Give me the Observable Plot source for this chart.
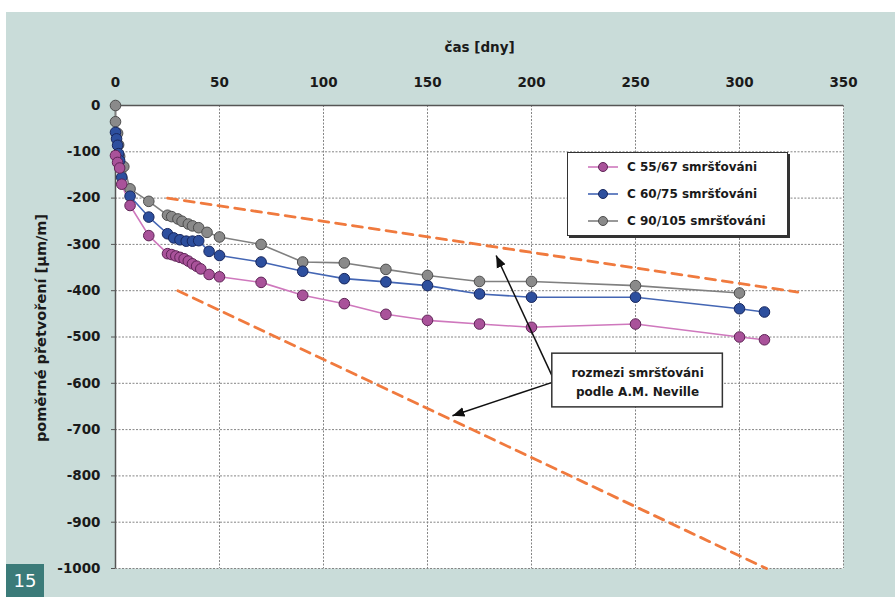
<!DOCTYPE html>
<html><head><meta charset="utf-8">
<script src="https://cdn.jsdelivr.net/npm/d3@7"></script>
<script src="https://cdn.jsdelivr.net/npm/@observablehq/plot@0.6"></script>
<style>
body{margin:0;background:#fff;}
#wrap{position:relative;width:895px;height:597px;overflow:hidden;background:#fff;}
#panel{position:absolute;left:6px;top:12px;width:889px;height:585px;background:#c9dcd9;}
#chart{position:absolute;left:6px;top:12px;}
#legend{position:absolute;left:567px;top:152px;width:219px;height:82px;background:#fff;border:1px solid #333;box-shadow:2px 2px 0 #333;font:bold 12px "DejaVu Sans",sans-serif;color:#1a1a1a;}
#legend .row{height:27px;display:flex;align-items:center;padding-left:20px;}
#legend svg{margin-right:9px;}
#badge{position:absolute;left:6px;top:564px;width:38px;height:33px;background:#3b7b79;color:#fff;font:18px "DejaVu Sans",sans-serif;display:flex;align-items:center;justify-content:center;}
</style>
</head><body>
<div id="wrap"><div id="panel"></div><div id="chart"></div><div id="legend"></div><div id="badge">15</div></div>
<script>
// ---- data ----
const seriesNames = ["C 55/67 smršťováni", "C 60/75 smršťováni", "C 90/105 smršťováni"];
const lineColors = ["#cf78bd", "#4466b4", "#808080"];
const dotColors = ["#a9529a", "#2d4f9e", "#8a8a8a"];
const dotEdges = ["#5e2456", "#18275e", "#4d4d4d"];

const days55 = [0, 1, 2, 3, 7, 16, 25, 27, 29, 31, 33, 35, 37, 39, 41, 45, 50, 70, 90, 110, 130, 150, 175, 200, 250, 300, 312];
const strain55 = [-108, -123, -135, -170, -216, -281, -320, -322, -325, -328, -331, -336, -342, -347, -353, -365, -370, -382, -410, -428, -451, -464, -472, -479, -472, -500, -506];

const days60 = [0, 0.5, 1, 1.5, 2, 3, 7, 16, 25, 28, 31, 34, 37, 40, 45, 50, 70, 90, 110, 130, 150, 175, 200, 250, 300, 312];
const strain60 = [-58, -72, -86, -104, -119, -155, -196, -241, -277, -286, -290, -293, -293, -292, -315, -324, -338, -358, -374, -381, -389, -407, -414, -414, -439, -446];

const days90 = [0, 0, 1, 1.5, 2, 4, 7, 16, 25, 27, 30, 32, 35, 37, 40, 44, 50, 70, 90, 110, 130, 150, 175, 200, 250, 300];
const strain90 = [0, -35, -60, -85, -110, -132, -180, -207, -237, -240, -245, -250, -256, -260, -264, -274, -284, -300, -338, -340, -354, -367, -380, -380, -389, -405];

const nevilleUpperDays = [25, 328];
const nevilleUpperStrain = [-200, -403];
const nevilleLowerDays = [30, 313];
const nevilleLowerStrain = [-400, -1000];

const xTicks = [0, 50, 100, 150, 200, 250, 300, 350];
const yTicks = [0, -100, -200, -300, -400, -500, -600, -700, -800, -900, -1000];

const xTitle = "čas [dny]";
const yTitle = "poměrné přetvoření [μm/m]";
const noteText = "rozmezi smršťováni\npodle A.M. Neville";
const noteBox = [{x1: 210, x2: 292, y1: -536, y2: -652}];
const noteCenter = [{day: 251, strain: -594}];
const arrows = [
  {x1: 210, y1: -585, x2: 183, y2: -324},
  {x1: 210, y1: -598, x2: 162, y2: -670}
];

// ---- build ----
const seriesDays = [days55, days60, days90];
const seriesStrain = [strain55, strain60, strain90];
const seriesRows = seriesDays.map((ds, i) => ds.map((d, j) => ({day: d, strain: seriesStrain[i][j]})));
const upper = nevilleUpperDays.map((d, i) => ({day: d, strain: nevilleUpperStrain[i]}));
const lower = nevilleLowerDays.map((d, i) => ({day: d, strain: nevilleLowerStrain[i]}));

const font = '"DejaVu Sans", sans-serif';
const marks = [
  Plot.frame({fill: "white"}),
  Plot.gridX({ticks: xTicks.slice(1), stroke: "#858585", strokeOpacity: 1, strokeDasharray: "2,1.5"}),
  Plot.gridY({ticks: yTicks.slice(1), stroke: "#858585", strokeOpacity: 1, strokeDasharray: "2,1.5"}),
  Plot.ruleY([0], {stroke: "#555", strokeWidth: 1.5}),
  Plot.ruleX([0], {stroke: "#555", strokeWidth: 1.5}),
  Plot.axisX({anchor: "top", ticks: xTicks, tickSize: 0, tickPadding: 19, label: null, fill: "#1a1a1a", tickFormat: d => String(d), fontSize: 13.5}),
  Plot.axisY({anchor: "left", ticks: yTicks, tickSize: 4, tickPadding: 11, label: null, fill: "#1a1a1a", stroke: "#555", tickFormat: d => String(d), fontSize: 13.5}),
  Plot.text([xTitle], {frameAnchor: "top", dy: -63, fontSize: 13.5, fontWeight: "bold", fill: "#1a1a1a"}),
  Plot.text([yTitle], {frameAnchor: "left", textAnchor: "middle", dx: -74, dy: -9, rotate: -90, fontSize: 14.5, fontWeight: "bold", fill: "#1a1a1a"}),
  Plot.line(upper, {x: "day", y: "strain", stroke: "#f07a3e", strokeWidth: 2.8, strokeDasharray: "10,7"}),
  Plot.line(lower, {x: "day", y: "strain", stroke: "#f07a3e", strokeWidth: 2.8, strokeDasharray: "10,7"})
];
[2, 1, 0].forEach(i => {
  marks.push(Plot.line(seriesRows[i], {x: "day", y: "strain", stroke: lineColors[i], strokeWidth: 1.6}));
});
[2, 1, 0].forEach(i => {
  marks.push(Plot.dot(seriesRows[i], {x: "day", y: "strain", r: 5.3, fill: dotColors[i], stroke: dotEdges[i], strokeWidth: 1}));
});
marks.push(
  Plot.link(arrows, {x1: "x1", y1: "y1", x2: "x2", y2: "y2", stroke: "#111", strokeWidth: 1.5, markerEnd: "arrow"}),
  Plot.rect(noteBox, {x1: "x1", x2: "x2", y1: "y1", y2: "y2", fill: "white", stroke: "#333", strokeWidth: 1.5}),
  Plot.text([noteText], {x: noteCenter[0].day, y: noteCenter[0].strain, fontSize: 12, fontWeight: "bold", lineHeight: 1.6, fill: "#1a1a1a"})
);

const chart = Plot.plot({
  width: 889, height: 585,
  marginLeft: 109, marginRight: 52, marginTop: 93, marginBottom: 29,
  x: {domain: [0, 350]},
  y: {domain: [-1000, 0]},
  style: {fontFamily: font, fontSize: "13.5px", fontWeight: "bold", background: "transparent", overflow: "visible"},
  marks
});

d3.select(chart).selectAll("marker").each(function() {
  const m = d3.select(this);
  m.attr("viewBox", "-10 -5 10 10").attr("markerWidth", 8).attr("markerHeight", 8)
   .attr("fill", "#111").attr("stroke", "none");
  m.select("path").attr("d", "M-10,-4L0,0L-10,4Z");
});
document.getElementById("chart").appendChild(chart);

// legend
const legend = d3.select("#legend");
seriesNames.forEach((name, i) => {
  const row = legend.append("div").attr("class", "row");
  const s = row.append("svg").attr("width", 30).attr("height", 12);
  s.append("line").attr("x1", 0).attr("x2", 30).attr("y1", 6).attr("y2", 6).attr("stroke", lineColors[i]).attr("stroke-width", 1.6);
  s.append("circle").attr("cx", 15).attr("cy", 6).attr("r", 4.5).attr("fill", dotColors[i]).attr("stroke", dotEdges[i]);
  row.append("span").text(name);
});
</script>
</body></html>
